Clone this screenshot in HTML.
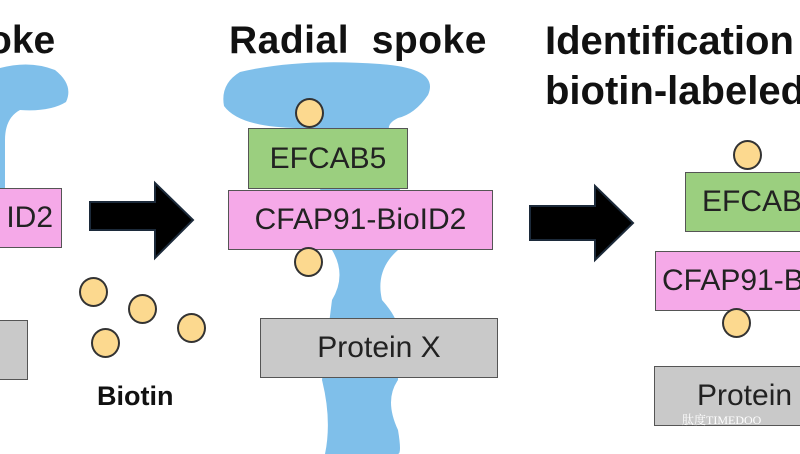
<!DOCTYPE html>
<html><head><meta charset="utf-8"><style>
body{margin:0;width:800px;height:454px;overflow:hidden;background:#fff;position:relative;font-family:"Liberation Sans",sans-serif}
.b{position:absolute;box-sizing:border-box;border:1.5px solid #555;font-size:30px;color:#222;display:flex;align-items:center;justify-content:center;white-space:nowrap;overflow:hidden}
.g{background:#9bcf7f}.p{background:#f5a9e8}.y{background:#c9c9c9}
.c{position:absolute;width:29px;height:30px;border-radius:50%;background:#fcd98f;border:2px solid #333;box-sizing:border-box}
.t{position:absolute;font-weight:bold;font-size:39px;color:#111;white-space:nowrap}
</style></head><body>
<svg width="800" height="454" style="position:absolute;left:0;top:0">
<path d="M0 68 Q30 60 55 70 Q74 85 66 102 Q50 112 20 110 Q5 118 5 140 L5 200 L0 200 Z" fill="#7fbfea"/>
<path d="M240 72 Q300 58 380 64 Q440 68 428 95 Q415 114 398 118 Q382 126 394 136 L397 150 L392 165 L400 190 L398 250 Q375 270 382 300 Q398 318 398 330 L398 380 Q384 400 398 430 Q402 454 398 454 L325 454 Q332 420 322 380 L332 300 Q347 275 332 250 L322 200 Q312 140 302 128 Q240 128 224 106 Q220 84 240 72Z" fill="#7fbfea"/>
<path d="M90 202 L155 202 L155 183 L193 220 L155 258 L155 230 L90 230Z" fill="#000" stroke="#1c2a3a" stroke-width="2"/>
<path d="M530 206 L595 206 L595 186 L633 223 L595 260 L595 240 L530 240Z" fill="#000" stroke="#1c2a3a" stroke-width="2"/>
</svg>
<div class="t" style="left:-12px;top:19px">oke</div>
<div class="t" style="left:229px;top:19px;letter-spacing:0.5px">Radial&nbsp; spoke</div>
<div class="t" style="left:545px;top:19px;font-size:40px">Identification</div>
<div class="t" style="left:545px;top:69px;font-size:40px">biotin-labeled</div>
<div class="b p" style="left:-5px;top:188px;width:67px;height:60px;justify-content:flex-end;padding-right:8px">ID2</div>
<div class="b y" style="left:-5px;top:320px;width:33px;height:60px"></div>
<div class="c" style="left:79px;top:277px"></div>
<div class="c" style="left:128px;top:294px"></div>
<div class="c" style="left:91px;top:328px"></div>
<div class="c" style="left:177px;top:313px"></div>
<div style="position:absolute;left:97px;top:381px;font-weight:bold;font-size:27px;color:#111">Biotin</div>
<div class="c" style="left:295px;top:98px"></div>
<div class="b g" style="left:248px;top:128px;width:160px;height:61px">EFCAB5</div>
<div class="b p" style="left:228px;top:190px;width:265px;height:60px">CFAP91-BioID2</div>
<div class="c" style="left:294px;top:247px"></div>
<div class="b y" style="left:260px;top:318px;width:238px;height:60px">Protein X</div>
<div class="c" style="left:733px;top:140px"></div>
<div class="b g" style="left:685px;top:172px;width:130px;height:60px;justify-content:flex-start;padding-left:16px">EFCAB5</div>
<div class="b p" style="left:655px;top:251px;width:160px;height:60px;justify-content:flex-start;padding-left:6px">CFAP91-BioID2</div>
<div class="c" style="left:722px;top:308px"></div>
<div class="b y" style="left:654px;top:366px;width:160px;height:60px;justify-content:flex-start;padding-left:42px">Protein X</div>
<div style="position:absolute;left:682px;top:411px;font-size:12px;color:#fff;font-family:'Liberation Serif','Noto Serif CJK SC',serif">肽度TIMEDOO</div>
</body></html>
